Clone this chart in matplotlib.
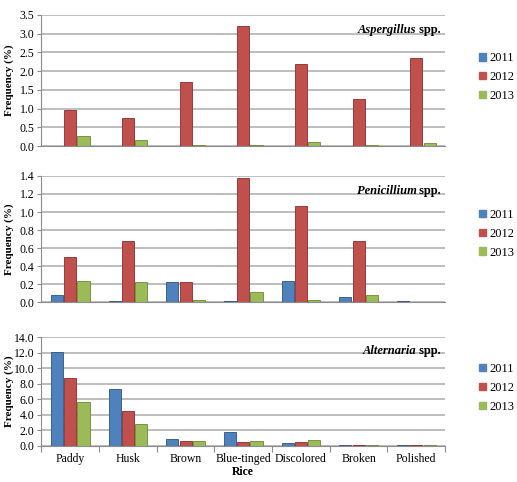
import matplotlib
matplotlib.use('Agg')
import matplotlib.pyplot as plt
import numpy as np

categories = ['Paddy', 'Husk', 'Brown', 'Blue-tinged', 'Discolored', 'Broken', 'Polished']
years = ['2011', '2012', '2013']

asp_2011 = [0.01, 0.01, 0.01, 0.01, 0.01, 0.01, 0.01]
asp_2012 = [0.95, 0.75, 1.70, 3.20, 2.20, 1.25, 2.35]
asp_2013 = [0.27, 0.15, 0.03, 0.02, 0.10, 0.04, 0.07]

pen_2011 = [0.08, 0.01, 0.22, 0.01, 0.23, 0.06, 0.01]
pen_2012 = [0.50, 0.68, 0.22, 1.38, 1.07, 0.68, 0.005]
pen_2013 = [0.24, 0.22, 0.03, 0.11, 0.03, 0.08, 0.005]

alt_2011 = [12.1, 7.4, 0.9, 1.8, 0.4, 0.05, 0.05]
alt_2012 = [8.7, 4.5, 0.6, 0.5, 0.5, 0.05, 0.05]
alt_2013 = [5.7, 2.8, 0.6, 0.6, 0.8, 0.08, 0.08]

colors = ['#4F81BD', '#C0504D', '#9BBB59']
edges = ['#2C5380', '#8C2A28', '#6B8A34']

plt.rcParams['font.family'] = ['Liberation Serif', 'DejaVu Serif']

fig = plt.figure(figsize=(5.17, 4.82), dpi=100)

panels = [
    ('Aspergillus', [asp_2011, asp_2012, asp_2013], 3.5, 0.5, [0.08, 0.697, 0.781, 0.272]),
    ('Penicillium', [pen_2011, pen_2012, pen_2013], 1.4, 0.2, [0.08, 0.373, 0.781, 0.262]),
    ('Alternaria', [alt_2011, alt_2012, alt_2013], 14.0, 2.0, [0.08, 0.075, 0.781, 0.225]),
]
legend_y = [0.84, 0.515, 0.195]

x = np.arange(len(categories))
w = 0.21
for i, (genus, series, ymax, step, rect) in enumerate(panels):
    ax = fig.add_axes(rect)
    for j, vals in enumerate(series):
        ax.bar(x + (j - 1) * 0.23, vals, w, color=colors[j], edgecolor=edges[j],
               linewidth=0.6, label=years[j], zorder=3)
    ax.set_xlim(-0.5, len(categories) - 0.5)
    ax.set_ylim(0, ymax)
    ticks = np.arange(0, ymax + step / 2, step)
    ax.set_yticks(ticks)
    ax.set_yticklabels(['%.1f' % t for t in ticks], fontsize=8.5)
    ax.yaxis.grid(True, color='#ABABAB', linewidth=1.1, zorder=0)
    ax.set_axisbelow(True)
    for s in ['top', 'right']:
        ax.spines[s].set_visible(False)
    ax.spines['left'].set_color('#8C8C8C')
    ax.spines['bottom'].set_color('#8C8C8C')
    ax.tick_params(axis='y', length=3, color='#8C8C8C', pad=2)
    ax.set_ylabel('Frequency (%)', fontsize=8, fontweight='bold')
    ax.yaxis.set_label_coords(-0.068, 0.5)
    if i == 2:
        ax.set_xticks(np.arange(len(categories) + 1) - 0.5, minor=False)
        ax.set_xticklabels([])
        ax.set_xticks(x, minor=True)
        ax.set_xticklabels(categories, minor=True, fontsize=8.5)
        ax.tick_params(axis='x', which='major', length=4, color='#8C8C8C')
        ax.tick_params(axis='x', which='minor', length=0, pad=5)
        ax.set_xlabel('Rice', fontsize=8.5, fontweight='bold', labelpad=1)
    else:
        ax.set_xticks([])
    t = ax.text(0.99, 0.93, ' spp.', transform=ax.transAxes, ha='right', va='top',
                fontsize=9, fontweight='bold')
    ax.annotate(genus, xy=(0, 0), xycoords=t, ha='right', va='bottom',
                fontsize=9, fontweight='bold', style='italic')
    handles = [plt.Rectangle((0, 0), 1, 1, color=c) for c in colors]
    fig.legend(handles, years, loc='center left', bbox_to_anchor=(0.905, legend_y[i]),
               frameon=False, fontsize=9, handlelength=0.55, handleheight=0.55,
               handletextpad=0.3, labelspacing=0.55)

plt.savefig('out.png', dpi=100)
